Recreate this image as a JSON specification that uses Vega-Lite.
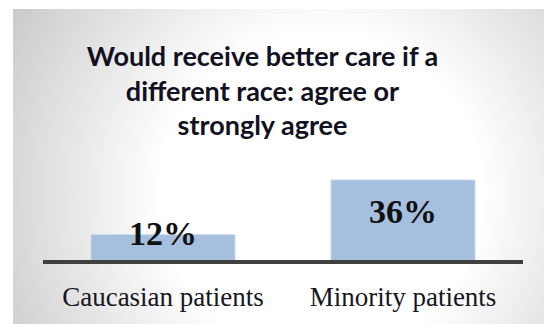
{
  "$schema": "https://vega.github.io/schema/vega-lite/v6.json",
  "width": 531,
  "height": 315,
  "autosize": {"type": "none"},
  "padding": {"left": 13, "top": 9, "right": 0, "bottom": 0},
  "background": "#ffffff",
  "config": {
    "view": {"stroke": null}
  },
  "title": {
    "text": ["Would receive better care if a", "different race: agree or", "strongly agree"],
    "font": "Lato",
    "fontSize": 27,
    "fontWeight": "bold",
    "color": "#111122",
    "anchor": "middle",
    "frame": "group",
    "dx": -16,
    "baseline": "alphabetic",
    "lineHeight": 34.5,
    "offset": -153,
    "zindex": 1
  },
  "data": {
    "values": [
      {"group": "Caucasian patients", "pct": 12, "label": "12%"},
      {"group": "Minority patients", "pct": 36, "label": "36%"}
    ]
  },
  "layer": [
    {
      "data": {"values": [{}]},
      "mark": {
        "type": "rect",
        "fill": {
          "gradient": "radial",
          "x1": 0.58, "y1": 0.55, "r1": 0,
          "x2": 0.58, "y2": 0.55, "r2": 0.72,
          "stops": [
            {"offset": 0, "color": "#ffffff"},
            {"offset": 0.42, "color": "#ffffff"},
            {"offset": 1, "color": "#c4c4c4"}
          ]
        }
      },
      "encoding": {}
    },
    {
      "mark": {"type": "bar", "fill": "#a7bfde", "stroke": "#c9d8ec", "strokeWidth": 1},
      "encoding": {
        "x": {
          "field": "group",
          "type": "nominal",
          "title": null,
          "sort": null,
          "scale": {"paddingInner": 0.4, "paddingOuter": 0.30625, "align": 0.5306},
          "axis": {
            "offset": -62,
            "domain": false,
            "ticks": false,
            "grid": false,
            "labelFont": "Liberation Serif",
            "labelFontSize": 27,
            "labelColor": "#161622",
            "labelPadding": 43,
            "labelBaseline": "alphabetic",
            "labelAngle": 0,
            "labelLimit": 0,
            "labelOverlap": false,
            "zindex": 2
          }
        },
        "y": {
          "field": "pct",
          "type": "quantitative",
          "scale": {"domain": [-27.22, 111.07], "zero": false, "nice": false},
          "axis": null
        },
        "y2": {"datum": 0}
      }
    },
    {
      "mark": {"type": "rule", "color": "#404040", "strokeWidth": 4},
      "encoding": {
        "x": {"datum": "Caucasian patients", "bandPosition": -0.3333},
        "x2": {"datum": "Minority patients", "bandPosition": 1.3333},
        "y": {"datum": 0}
      }
    },
    {
      "transform": [{"filter": "datum.group === 'Minority patients'"}],
      "mark": {"type": "text", "font": "Liberation Serif", "fontSize": 34, "fontWeight": "bold", "baseline": "alphabetic", "dy": 43, "color": "#111111"},
      "encoding": {
        "x": {"field": "group", "type": "nominal", "title": null, "sort": null},
        "y": {"field": "pct", "type": "quantitative"},
        "text": {"field": "label"}
      }
    },
    {
      "transform": [{"filter": "datum.group === 'Caucasian patients'"}],
      "mark": {"type": "text", "font": "Liberation Serif", "fontSize": 34, "fontWeight": "bold", "baseline": "alphabetic", "dy": 10, "color": "#111111"},
      "encoding": {
        "x": {"field": "group", "type": "nominal", "title": null, "sort": null},
        "y": {"field": "pct", "type": "quantitative"},
        "text": {"field": "label"}
      }
    }
  ]
}
